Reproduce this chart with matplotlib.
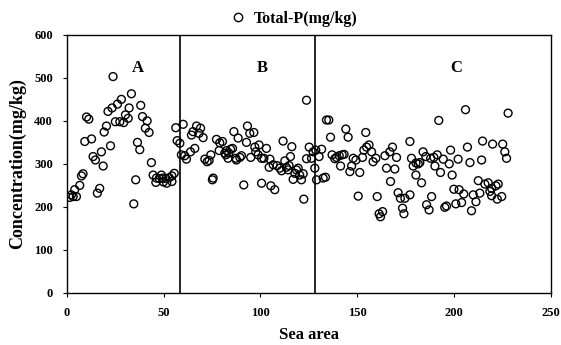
import matplotlib
matplotlib.use("Agg")
import matplotlib.pyplot as plt
from matplotlib.lines import Line2D

plt.rcParams['font.family'] = ['Liberation Serif', 'DejaVu Serif']
plt.rcParams['font.weight'] = 'bold'

# Region A
xa = [23.9, 33.4, 28.2, 26.2, 23.4, 21.3, 38.2, 32.2, 30.3, 31.7, 25.1, 27.4, 29.4, 39.1, 41.5, 40.6,
      42.5, 36.5, 37.7, 10.2, 11.4, 20.5, 19.3, 9.3, 12.8, 22.6, 17.9, 13.6, 14.8, 18.8, 8.4, 7.6,
      6.7, 4.1, 2.4, 5.0, 1.5, 3.3, 17.0, 15.8, 35.6, 34.6, 43.7, 44.6, 48.9, 46.3, 47.8, 49.5,
      51.2, 52.9, 54.3, 55.5, 46.0, 51.6, 49.9, 54.3]
ya = [503, 463, 450, 439, 430, 422, 436, 430, 414, 406, 398, 398, 396, 410, 400, 383,
      373, 350, 333, 409, 404, 388, 374, 352, 358, 342, 328, 317, 309, 295, 277, 272,
      250, 240, 228, 224, 222, 224, 243, 232, 263, 207, 303, 274, 274, 267, 266, 267,
      266, 268, 272, 278, 257, 255, 258, 259]

# Region B
xb = [56.3, 60.1, 57.0, 58.4, 59.2, 60.9, 61.8, 63.9, 66.1, 64.4, 65.2, 67.0, 69.1, 70.4, 68.3,
      71.3, 72.5, 73.5, 74.4, 75.2, 75.6, 77.3, 79.0, 80.4, 78.7, 81.6, 82.5, 83.7, 84.6, 85.6,
      83.3, 82.1, 86.3, 88.5, 92.8, 87.6, 89.4, 90.2, 87.3, 91.4, 93.3, 94.5, 96.6, 95.0, 97.1,
      99.3, 97.6, 98.8, 100.6, 103.1, 101.8, 104.9, 100.6, 105.4, 107.4, 104.5, 106.6, 108.6,
      110.0, 110.9, 112.6, 111.7, 113.4, 114.3, 115.5, 114.8,
      116.2, 118.6, 119.5, 117.8, 120.3, 121.2, 116.9, 122.1, 122.4, 123.8, 125.2, 123.8, 126.4,
      127.2]
yb = [384, 392, 354, 348, 321, 319, 311, 328, 336, 367, 375, 388, 383, 361, 371,
      311, 305, 308, 321, 263, 267, 357, 349, 352, 331, 325, 331, 325, 334, 336,
      313, 321, 375, 360, 350, 309, 315, 319, 313, 251, 388, 371, 373, 315, 339,
      344, 328, 321, 313, 336, 313, 311, 255, 249, 240, 292, 298, 296,
      290, 284, 307, 353, 292, 286, 317, 296,
      340, 286, 290, 278, 274, 263, 264, 277, 218, 448, 339, 312, 313,
      328]

# Region C
xc = [128.6, 130.3, 131.6, 128.1, 129.0, 132.4, 133.6, 134.1, 135.3, 144.1, 145.3, 154.4, 136.2,
      137.0, 138.4, 139.3, 140.7, 142.2, 143.2, 141.4, 147.9, 149.3, 147.1, 146.2, 151.3, 152.7,
      150.5, 153.4, 154.8, 156.1, 157.4, 158.2, 159.6, 160.3, 161.3, 162.0, 163.1, 164.3, 166.8,
      168.2, 170.3, 165.1, 169.4, 167.2, 171.1, 172.3, 174.6, 173.4, 174.1,
      177.2, 178.0, 178.9, 180.3, 181.5, 182.3, 180.3, 183.2, 184.0, 185.4, 187.9, 189.6, 191.3,
      190.1, 194.4, 197.5, 193.0, 199.0, 198.2, 202.1, 206.9, 208.2, 214.2, 192.1, 205.9, 227.9,
      214.7, 219.9, 225.1, 226.2, 227.1, 188.4, 185.8, 187.1, 195.2, 196.1, 200.9, 203.9, 209.0,
      211.3, 209.9, 213.3, 199.9, 202.6, 205.0, 212.5, 215.9, 217.6, 219.4, 218.5, 222.8, 221.6,
      222.3, 224.6, 219.4, 177.2]
yc = [332, 317, 334, 290, 263, 267, 269, 402, 402, 381, 362, 373, 362,
      321, 312, 315, 319, 321, 322, 295, 313, 309, 295, 282, 280, 315,
      225, 332, 339, 344, 328, 305, 313, 224, 184, 177, 189, 319, 328,
      339, 315, 290, 288, 259, 233, 220, 220, 197, 184,
      352, 313, 295, 302, 300, 303, 274, 256, 328, 317, 313, 315, 321,
      295, 311, 300, 280, 274, 332, 311, 339, 303, 309, 401, 426, 418,
      353, 346, 346, 328, 313, 224, 205, 193, 199, 202, 207, 210, 191,
      212, 228, 232, 241, 240, 230, 261, 253, 256, 243, 236, 253, 249,
      218, 224, 226, 228]

x_all = xa + xb + xc
y_all = ya + yb + yc

boundaries = [58.5, 128]
region_labels = ['A', 'B', 'C']
region_label_x = [36.5, 101, 201]
region_label_y = 522

fig = plt.figure(figsize=(5.61, 3.45), dpi=100)
ax = fig.add_axes([0.119, 0.151, 0.863, 0.748])

ax.scatter(x_all, y_all, s=32, facecolors='none', edgecolors='black', linewidths=1.0, zorder=3)

for b in boundaries:
    ax.axvline(b, color='black', linewidth=1.2, zorder=2)

for lab, lx in zip(region_labels, region_label_x):
    ax.text(lx, region_label_y, lab, ha='center', va='center', fontsize=12, fontweight='bold')

ax.set_xlim(0, 250)
ax.set_ylim(0, 600)
ax.set_xticks([0, 50, 100, 150, 200, 250])
ax.set_yticks([0, 100, 200, 300, 400, 500, 600])
ax.tick_params(direction='out', length=3, width=0.8, labelsize=9, pad=7)
for lbl in ax.get_xticklabels() + ax.get_yticklabels():
    lbl.set_fontweight('bold')
for sp in ax.spines.values():
    sp.set_linewidth(1.0)
    sp.set_color('black')

ax.set_xlabel('Sea area', fontsize=12, fontweight='bold', labelpad=6)
ax.set_ylabel('Concentration(mg/kg)', fontsize=13, fontweight='bold', labelpad=6)

handle = Line2D([], [], linestyle='none', marker='o', markerfacecolor='none',
                markeredgecolor='black', markersize=6, markeredgewidth=1.0)
ax.legend([handle], ['Total-P(mg/kg)'], loc='lower center', bbox_to_anchor=(0.46, 1.0),
          frameon=False, prop={'weight': 'bold', 'size': 11.5}, handletextpad=0.0,
          borderaxespad=0.1)

fig.savefig('out.png', dpi=100)
